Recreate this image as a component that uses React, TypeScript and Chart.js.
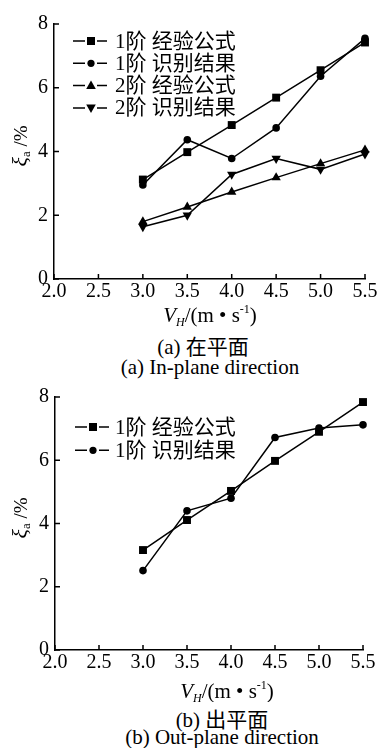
import React, { useEffect, useRef } from 'react';
import { Chart, registerables } from 'chart.js';

Chart.register(...registerables);

// ---------- data ----------
const xValues = [3.0, 3.5, 4.0, 4.5, 5.0, 5.5];
const xTicks = [2.0, 2.5, 3.0, 3.5, 4.0, 4.5, 5.0, 5.5];
const yTicks = [0, 2, 4, 6, 8];

const inPlaneLabels = ['1阶 经验公式', '1阶 识别结果', '2阶 经验公式', '2阶 识别结果'];
const inPlaneMode1Formula = [3.12, 3.98, 4.83, 5.69, 6.55, 7.42];
const inPlaneMode1Identified = [2.95, 4.37, 3.78, 4.74, 6.36, 7.55];
const inPlaneMode2Formula = [1.8, 2.26, 2.73, 3.18, 3.62, 4.05];
const inPlaneMode2Identified = [1.64, 2.0, 3.28, 3.78, 3.44, 3.92];

const outPlaneLabels = ['1阶 经验公式', '1阶 识别结果'];
const outPlaneMode1Formula = [3.16, 4.11, 5.03, 5.98, 6.9, 7.84];
const outPlaneMode1Identified = [2.51, 4.4, 4.8, 6.72, 7.02, 7.12];

const markerStyles = ['rect', 'circle', 'triangle', 'triangleDown'];

const captionsA = ['(a) 在平面', '(a) In-plane direction'];
const captionsB = ['(b) 出平面', '(b) Out-plane direction'];

const FONT = "'Liberation Serif', 'Times New Roman', 'Noto Sans CJK SC', serif";
const W = 383;

type Layout = {
  top: number;
  height: number;
  area: { left: number; top: number; right: number; bottom: number };
  legend: { x: number; y0: number; dy: number; textX: number };
  xTitle: { cx: number; cy: number };
  yTitle: { cx: number; cy: number };
};

function drawMarker(ctx: CanvasRenderingContext2D, style: string, x: number, y: number) {
  ctx.beginPath();
  if (style === 'rect') {
    ctx.rect(x - 4, y - 4, 8, 8);
  } else if (style === 'circle') {
    ctx.arc(x, y, 3.6, 0, Math.PI * 2);
  } else if (style === 'triangle') {
    ctx.moveTo(x, y - 5);
    ctx.lineTo(x + 4.8, y + 3.3);
    ctx.lineTo(x - 4.8, y + 3.3);
    ctx.closePath();
  } else {
    ctx.moveTo(x, y + 5);
    ctx.lineTo(x + 4.8, y - 3.3);
    ctx.lineTo(x - 4.8, y - 3.3);
    ctx.closePath();
  }
  ctx.fill();
}

function drawParts(
  ctx: CanvasRenderingContext2D,
  parts: { t: string; font: string; dy: number }[],
  startX: number,
  baseY: number
) {
  let x = startX;
  for (const p of parts) {
    ctx.font = p.font;
    ctx.fillText(p.t, x, baseY + p.dy);
    x += ctx.measureText(p.t).width;
  }
}

function measureParts(ctx: CanvasRenderingContext2D, parts: { t: string; font: string; dy: number }[]) {
  let w = 0;
  for (const p of parts) {
    ctx.font = p.font;
    w += ctx.measureText(p.t).width;
  }
  return w;
}

function Panel({
  layout,
  labels,
  series,
}: {
  layout: Layout;
  labels: string[];
  series: number[][];
}) {
  const ref = useRef<HTMLCanvasElement | null>(null);

  useEffect(() => {
    if (!ref.current) return;
    const L = layout;
    const datasets = series.map((vals, i) => {
      const style = markerStyles[i];
      return {
        label: labels[i],
        data: vals.map((v, j) => ({ x: xValues[j], y: v })),
        borderColor: '#000',
        backgroundColor: '#000',
        borderWidth: 1.5,
        pointStyle: style === 'triangleDown' ? 'triangle' : style,
        rotation: style === 'triangleDown' ? 180 : 0,
        pointRadius: style === 'rect' ? 5.6 : style === 'circle' ? 3.8 : 5.4,
        pointBackgroundColor: '#000',
        pointBorderColor: '#000',
        pointBorderWidth: 0,
        tension: 0,
        clip: false as any,
      };
    });

    const decorPlugin = {
      id: 'decor',
      afterDraw(chart: any) {
        const ctx: CanvasRenderingContext2D = chart.ctx;
        const xs = chart.scales.x;
        const ys = chart.scales.y;
        const ca = chart.chartArea;
        ctx.save();
        ctx.strokeStyle = '#000';
        ctx.fillStyle = '#000';
        ctx.lineWidth = 1.5;
        // inward ticks
        ctx.beginPath();
        for (const v of xTicks) {
          const px = xs.getPixelForValue(v);
          ctx.moveTo(px, ca.bottom);
          ctx.lineTo(px, ca.bottom - 5);
        }
        for (const v of yTicks) {
          const py = ys.getPixelForValue(v);
          ctx.moveTo(ca.left, py);
          ctx.lineTo(ca.left + 5, py);
        }
        ctx.stroke();

        // legend
        ctx.textBaseline = 'middle';
        ctx.textAlign = 'left';
        labels.forEach((lab, i) => {
          const y = L.legend.y0 + i * L.legend.dy;
          const x0 = L.legend.x;
          ctx.lineWidth = 1.5;
          ctx.beginPath();
          ctx.moveTo(x0, y);
          ctx.lineTo(x0 + 12, y);
          ctx.moveTo(x0 + 24, y);
          ctx.lineTo(x0 + 34, y);
          ctx.stroke();
          drawMarker(ctx, markerStyles[i], x0 + 18, y);
          ctx.font = `21px ${FONT}`;
          ctx.fillText(lab, L.legend.textX, y + 1);
        });

        // x title
        ctx.textBaseline = 'alphabetic';
        const xParts = [
          { t: 'V', font: `italic 21px ${FONT}`, dy: 0 },
          { t: 'H', font: `italic 12px ${FONT}`, dy: 4 },
          { t: '/(m • s', font: `21px ${FONT}`, dy: 0 },
          { t: '-1', font: `12px ${FONT}`, dy: -9 },
          { t: ')', font: `21px ${FONT}`, dy: 0 },
        ];
        const xw = measureParts(ctx, xParts);
        drawParts(ctx, xParts, L.xTitle.cx - xw / 2, L.xTitle.cy + 6);

        // y title (rotated)
        const yParts = [
          { t: 'ξ', font: `italic 22px ${FONT}`, dy: 0 },
          { t: 'a', font: `13px ${FONT}`, dy: 3 },
          { t: ' /%', font: `19px ${FONT}`, dy: 0 },
        ];
        ctx.translate(L.yTitle.cx, L.yTitle.cy);
        ctx.rotate(-Math.PI / 2);
        const yw = measureParts(ctx, yParts);
        drawParts(ctx, yParts, -yw / 2, 6);
        ctx.restore();
      },
    };

    const tickFont = { family: FONT, size: 20 };
    const chart = new Chart(ref.current, {
      type: 'line',
      data: { datasets: datasets as any },
      options: {
        animation: false,
        responsive: false,
        maintainAspectRatio: false,
        layout: {
          padding: { left: 0, top: L.area.top, right: W - L.area.right, bottom: 0 },
        },
        plugins: {
          legend: { display: false },
          tooltip: { enabled: false },
          title: { display: false },
        },
        scales: {
          x: {
            type: 'linear',
            min: 2,
            max: 5.5,
            afterBuildTicks: (s: any) => {
              s.ticks = xTicks.map((v) => ({ value: v }));
            },
            afterFit: (s: any) => {
              s.height = L.height - L.area.bottom;
            },
            ticks: {
              color: '#000',
              font: tickFont,
              padding: 1,
              maxRotation: 0,
              autoSkip: false,
              callback: (v: any) => Number(v).toFixed(1),
            },
            grid: { display: false, drawTicks: false },
            border: { display: true, color: '#000', width: 1.5 },
          },
          y: {
            type: 'linear',
            min: 0,
            max: 8,
            afterBuildTicks: (s: any) => {
              s.ticks = yTicks.map((v) => ({ value: v }));
            },
            afterFit: (s: any) => {
              s.width = L.area.left;
            },
            ticks: {
              color: '#000',
              font: tickFont,
              padding: 6,
              callback: (v: any) => String(v),
            },
            grid: { display: false, drawTicks: false },
            border: { display: true, color: '#000', width: 1.5 },
          },
        },
      },
      plugins: [decorPlugin],
    });
    return () => chart.destroy();
  }, [layout, labels, series]);

  return (
    <canvas
      ref={ref}
      width={W}
      height={layout.height}
      style={{ position: 'absolute', left: 0, top: layout.top, width: W, height: layout.height }}
    />
  );
}

const layoutA: Layout = {
  top: 0,
  height: 330,
  area: { left: 54, top: 24, right: 365, bottom: 279 },
  legend: { x: 73, y0: 41, dy: 22.3, textX: 115 },
  xTitle: { cx: 210, cy: 316 },
  yTitle: { cx: 21, cy: 146 },
};

const layoutB: Layout = {
  top: 372,
  height: 330,
  area: { left: 55, top: 25, right: 363, bottom: 278 },
  legend: { x: 75, y0: 55, dy: 23.3, textX: 115 },
  xTitle: { cx: 227, cy: 320 },
  yTitle: { cx: 21, cy: 146 },
};

const seriesA = [inPlaneMode1Formula, inPlaneMode1Identified, inPlaneMode2Formula, inPlaneMode2Identified];
const seriesB = [outPlaneMode1Formula, outPlaneMode1Identified];

function Caption({ text, cx, cy }: { text: string; cx: number; cy: number }) {
  return (
    <div
      style={{
        position: 'absolute',
        left: cx - 160,
        width: 320,
        top: cy - 11,
        height: 22,
        lineHeight: '22px',
        textAlign: 'center',
        fontFamily: FONT,
        fontSize: 21,
        color: '#000',
        whiteSpace: 'nowrap',
      }}
    >
      {text}
    </div>
  );
}

export default function App() {
  return (
    <div style={{ position: 'absolute', left: 0, top: 0, width: W, height: 748, background: '#fff', overflow: 'hidden' }}>
      <Panel layout={layoutA} labels={inPlaneLabels} series={seriesA} />
      <Caption text={captionsA[0]} cx={203} cy={347} />
      <Caption text={captionsA[1]} cx={210} cy={367} />
      <Panel layout={layoutB} labels={outPlaneLabels} series={seriesB} />
      <Caption text={captionsB[0]} cx={222} cy={720} />
      <Caption text={captionsB[1]} cx={222} cy={737} />
    </div>
  );
}
